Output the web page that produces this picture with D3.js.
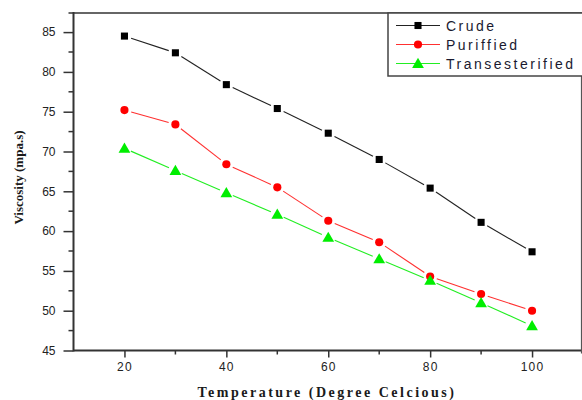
<!DOCTYPE html>
<html><head><meta charset="utf-8">
<script src="https://cdn.jsdelivr.net/npm/d3@7"></script>
<style>
html,body{margin:0;padding:0;background:#fff;}
svg{display:block;}
</style></head>
<body>
<svg id="chart" width="582" height="400"></svg>
<script>
const temperatures = [20, 30, 40, 50, 60, 70, 80, 90, 100];
const crude = [84.5, 82.4, 78.4, 75.4, 72.3, 69.0, 65.4, 61.1, 57.4];
const purified = [75.2, 73.4, 68.4, 65.5, 61.3, 58.6, 54.3, 52.1, 50.0];
const transesterified = [70.4, 67.6, 64.8, 62.1, 59.2, 56.5, 53.8, 51.0, 48.1];
const seriesNames = ["Crude", "Puriffied", "Transesterified"];
const xTicks = [20, 40, 60, 80, 100];
const yTicks = [45, 50, 55, 60, 65, 70, 75, 80, 85];
const xLabel = "Temperature (Degree Celcious)";
const yLabel = "Viscosity (mpa.s)";

const svg = d3.select("#chart");
const pLeft = 73.5, pRight = 581.5, pTop = 13, pBottom = 350.5;
const x = d3.scaleLinear().domain([10, 110]).range([73.5, 583]);
const y = d3.scaleLinear().domain([45, 87.4]).range([pBottom, pTop]);

const axisColor = "#333";
const xMinor = d3.range(30, 110, 20);
const yMinor = d3.range(47.5, 87.5, 5);

const gx = svg.append("g").attr("transform", `translate(0,${pBottom})`)
  .call(d3.axisBottom(x).tickValues(xTicks).tickSize(7).tickPadding(5).tickSizeOuter(0));
gx.select(".domain").remove();
gx.selectAll(".tick line").attr("stroke", axisColor).attr("stroke-width", 1.5);
gx.selectAll("text").attr("font-family", "Liberation Sans, Arial, sans-serif").attr("font-size", 12).attr("fill", "#222").attr("letter-spacing", "1.2px");
svg.append("g").selectAll("line").data(xMinor).join("line")
  .attr("x1", d => x(d)).attr("x2", d => x(d)).attr("y1", pBottom).attr("y2", pBottom + 4)
  .attr("stroke", axisColor).attr("stroke-width", 1.5);

const gy = svg.append("g").attr("transform", `translate(${pLeft},0)`)
  .call(d3.axisLeft(y).tickValues(yTicks).tickSize(10).tickPadding(8).tickSizeOuter(0));
gy.select(".domain").remove();
gy.selectAll(".tick line").attr("stroke", axisColor).attr("stroke-width", 1.5);
gy.selectAll("text").attr("font-family", "Liberation Sans, Arial, sans-serif").attr("font-size", 12).attr("fill", "#222");
svg.append("g").selectAll("line").data(yMinor).join("line")
  .attr("x1", pLeft - 5).attr("x2", pLeft).attr("y1", d => y(d)).attr("y2", d => y(d))
  .attr("stroke", axisColor).attr("stroke-width", 1.5);

// frame
svg.append("line").attr("x1", pLeft).attr("x2", pLeft).attr("y1", pTop - 1).attr("y2", pBottom + 1).attr("stroke", axisColor).attr("stroke-width", 2);
svg.append("line").attr("x1", pLeft - 5).attr("x2", 582).attr("y1", pTop).attr("y2", pTop).attr("stroke", axisColor).attr("stroke-width", 1.5);
svg.append("line").attr("x1", pLeft).attr("x2", 582).attr("y1", pBottom).attr("y2", pBottom).attr("stroke", axisColor).attr("stroke-width", 2);
svg.append("line").attr("x1", pRight).attr("x2", pRight).attr("y1", pTop).attr("y2", pBottom + 3).attr("stroke", "#555").attr("stroke-width", 1.2);

const series = [
  {name: seriesNames[0], values: crude, color: "#000000", line: "#222", shape: d3.symbolSquare, size: 50},
  {name: seriesNames[1], values: purified, color: "#ff0000", line: "#ff3030", shape: d3.symbolCircle, size: 52},
  {name: seriesNames[2], values: transesterified, color: "#00ee00", line: "#22ee22", shape: d3.symbolTriangle, size: 60}
];

const gap = 7;
series.forEach(s => {
  const pts = temperatures.map((t, i) => [x(t), y(s.values[i])]);
  const segs = d3.pairs(pts).map(([a, b]) => {
    const dx = b[0] - a[0], dy = b[1] - a[1], len = Math.hypot(dx, dy);
    const ux = dx / len, uy = dy / len;
    return [a[0] + ux * gap, a[1] + uy * gap, b[0] - ux * gap, b[1] - uy * gap];
  });
  svg.append("g").selectAll("line").data(segs).join("line")
    .attr("x1", d => d[0]).attr("y1", d => d[1]).attr("x2", d => d[2]).attr("y2", d => d[3])
    .attr("stroke", s.line).attr("stroke-width", 1.1);
  svg.append("g").selectAll("path").data(pts).join("path")
    .attr("d", d3.symbol().type(s.shape).size(s.size))
    .attr("transform", d => `translate(${d[0]},${d[1] + (s.shape === d3.symbolTriangle ? 1 : 0)})`)
    .attr("fill", s.color);
});

// legend
const lg = svg.append("g");
lg.append("rect").attr("x", 388).attr("y", pTop).attr("width", 200).attr("height", 63)
  .attr("fill", "#fff").attr("stroke", "#444").attr("stroke-width", 1.5);
series.forEach((s, i) => {
  const ly = 25.5 + i * 19;
  lg.append("line").attr("x1", 396).attr("x2", 440).attr("y1", ly).attr("y2", ly).attr("stroke", s.line).attr("stroke-width", 1.1);
  lg.append("path").attr("d", d3.symbol().type(s.shape).size(s.size))
    .attr("transform", `translate(418,${ly + (s.shape === d3.symbolTriangle ? 1 : 0)})`).attr("fill", s.color);
  lg.append("text").attr("x", 446).attr("y", ly + 5).text(s.name)
    .attr("font-family", "Liberation Sans, Arial, sans-serif").attr("font-size", 14)
    .attr("letter-spacing", "2.5px").attr("fill", "#1a1a30");
});

// axis labels
svg.append("text").attr("x", 327).attr("y", 397).attr("text-anchor", "middle")
  .attr("font-family", "Liberation Serif, Times New Roman, serif").attr("font-weight", "bold")
  .attr("font-size", 14).attr("letter-spacing", "2.5px").attr("fill", "#1a1a1a").text(xLabel);
svg.append("text").attr("transform", "translate(23,177.5) rotate(-90)").attr("text-anchor", "middle")
  .attr("font-family", "Liberation Serif, Times New Roman, serif").attr("font-weight", "bold")
  .attr("font-size", 13).attr("fill", "#1a1a1a").text(yLabel);
</script>
</body></html>
